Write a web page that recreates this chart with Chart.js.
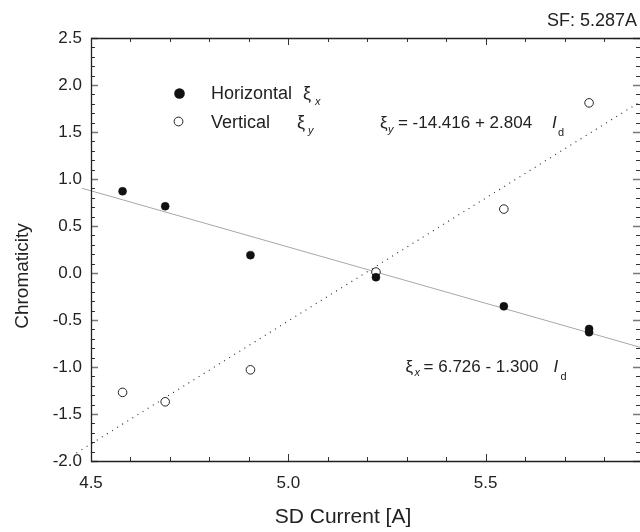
<!DOCTYPE html>
<html>
<head>
<meta charset="utf-8">
<script src="https://cdn.jsdelivr.net/npm/chart.js@4.4.1/dist/chart.umd.min.js"></script>
<style>
  html, body { margin: 0; padding: 0; background: #fff; }
  #wrap { width: 640px; height: 532px; }
</style>
</head>
<body>
<div id="wrap"><canvas id="chart" width="640" height="532"></canvas></div>
<script>
// SD current [A] and measured chromaticity
const currentH = [4.580, 4.688, 4.904, 5.222, 5.546, 5.762, 5.762];
const chromH = [0.87, 0.71, 0.19, -0.045, -0.355, -0.595, -0.63];
const currentV = [4.580, 4.688, 4.904, 5.222, 5.546, 5.762];
const chromV = [-1.27, -1.37, -1.03, 0.01, 0.68, 1.81];

// fitted lines as drawn in the figure (end points)
const fitHx = [4.477, 5.891];
const fitHy = [0.902, -0.79];
const fitVx = [4.463, 5.891];
const fitVy = [-1.914, 1.82];

const xTicks = [4.5, 5.0, 5.5];
const yTicks = [-2.0, -1.5, -1.0, -0.5, 0.0, 0.5, 1.0, 1.5, 2.0, 2.5];

const FONT = "'Liberation Sans', Arial, sans-serif";
const ink = "#222";

function pts(xs, ys) {
  return xs.map((x, i) => ({ x: x, y: ys[i] }));
}

// draws a run of pieces: [text, dx, dy, size, italic]
function richText(ctx, x0, y0, parts) {
  for (const p of parts) {
    ctx.font = (p[4] ? "italic " : "") + p[3] + "px " + FONT;
    ctx.fillText(p[0], x0 + p[1], y0 + p[2]);
  }
}

const framePlugin = {
  id: "frame",
  afterDraw(chart) {
    const ctx = chart.ctx;
    const a = chart.chartArea;
    const xs = chart.scales.x;
    const ys = chart.scales.y;
    ctx.save();

    // inward ticks on all four sides, minor every 0.1
    for (let i = 0; ; i++) {
      const v = +(ys.min + i * 0.1).toFixed(2);
      if (v > ys.max + 1e-6) break;
      const major = Math.abs(v * 2 - Math.round(v * 2)) < 1e-6;
      const py = Math.round(ys.getPixelForValue(v)) + 0.5;
      const len = major ? 7 : 4;
      ctx.strokeStyle = major ? "#777" : "#333";
      ctx.lineWidth = major ? 1.6 : 1;
      ctx.beginPath();
      ctx.moveTo(a.left, py); ctx.lineTo(a.left + len, py);
      ctx.moveTo(a.right, py); ctx.lineTo(a.right - len, py);
      ctx.stroke();
    }
    for (let i = 0; ; i++) {
      const v = +(xs.min + i * 0.1).toFixed(2);
      if (v > xs.max + 1e-6) break;
      const major = Math.abs(v * 2 - Math.round(v * 2)) < 1e-6;
      const px = Math.round(xs.getPixelForValue(v)) + 0.5;
      const len = major ? 7 : 4;
      ctx.strokeStyle = "#333";
      ctx.lineWidth = 1;
      ctx.beginPath();
      ctx.moveTo(px, a.bottom); ctx.lineTo(px, a.bottom - len);
      ctx.moveTo(px, a.top); ctx.lineTo(px, a.top + len);
      ctx.stroke();
    }

    // frame: the right side falls just past the canvas edge
    ctx.strokeStyle = ink;
    ctx.lineWidth = 1.3;
    ctx.beginPath();
    ctx.moveTo(a.right + 1, a.top + 0.5);
    ctx.lineTo(a.left + 0.5, a.top + 0.5);
    ctx.lineTo(a.left + 0.5, a.bottom + 0.5);
    ctx.lineTo(a.right + 1, a.bottom + 0.5);
    ctx.stroke();

    // axis titles
    ctx.fillStyle = ink;
    ctx.textBaseline = "alphabetic";
    ctx.textAlign = "center";
    ctx.font = "21px " + FONT;
    ctx.fillText("SD Current [A]", 343, 523);
    ctx.save();
    ctx.translate(28, 276);
    ctx.rotate(-Math.PI / 2);
    ctx.font = "19px " + FONT;
    ctx.fillText("Chromaticity", 0, 0);
    ctx.restore();

    ctx.textAlign = "right";
    ctx.font = "18px " + FONT;
    ctx.fillText("SF: 5.287A", 637, 26);

    // legend
    ctx.textAlign = "left";
    ctx.fillStyle = "#111";
    ctx.beginPath();
    ctx.arc(179.5, 93.5, 5.3, 0, Math.PI * 2);
    ctx.fill();
    ctx.beginPath();
    ctx.arc(178.5, 121.5, 4.4, 0, Math.PI * 2);
    ctx.fillStyle = "#fff";
    ctx.fill();
    ctx.strokeStyle = ink;
    ctx.lineWidth = 1;
    ctx.stroke();
    ctx.fillStyle = ink;
    richText(ctx, 211, 99, [["Horizontal", 0, 0, 18, false], ["\u03BE", 92, 0, 18, false], ["x", 104, 6, 11, true]]);
    richText(ctx, 211, 128, [["Vertical", 0, 0, 18, false], ["\u03BE", 86, 0, 18, false], ["y", 97, 6, 11, true]]);

    // fit equations
    const ux = xs.getPixelForValue(5.232);
    const uy = ys.getPixelForValue(1.543);
    richText(ctx, ux, uy, [
      ["\u03BE", 0, 0, 17, false], ["y", 8, 5, 11, true],
      ["= -14.416 + 2.804", 18, 0, 17, false],
      ["I", 172, 0, 17, true], ["d", 178, 8.5, 11, false]
    ]);
    const lx = xs.getPixelForValue(5.297);
    const ly = ys.getPixelForValue(-1.057);
    richText(ctx, lx, ly, [
      ["\u03BE", 0, 0, 17, false], ["x", 9, 4, 11, true],
      ["= 6.726 - 1.300", 18, 0, 17, false],
      ["I", 148, 0, 17, true], ["d", 155, 8, 11, false]
    ]);
    ctx.restore();
  }
};

Chart.defaults.font.family = FONT;
Chart.defaults.color = ink;

new Chart(document.getElementById("chart"), {
  type: "scatter",
  plugins: [framePlugin],
  data: {
    datasets: [
      {
        label: "Horizontal",
        data: pts(currentH, chromH),
        pointRadius: 4,
        pointBackgroundColor: "#111",
        pointBorderColor: "#111",
        pointBorderWidth: 0.5,
        showLine: false
      },
      {
        label: "Vertical",
        data: pts(currentV, chromV),
        pointRadius: 4.3,
        pointBackgroundColor: "#fff",
        pointBorderColor: ink,
        pointBorderWidth: 1,
        showLine: false
      },
      {
        label: "fit H",
        data: pts(fitHx, fitHy),
        showLine: true,
        pointRadius: 0,
        borderColor: "#a8a8a8",
        borderWidth: 1,
        clip: false
      },
      {
        label: "fit V",
        data: pts(fitVx, fitVy),
        showLine: true,
        pointRadius: 0,
        borderColor: "#333",
        borderWidth: 1.2,
        borderDash: [1, 5],
        clip: false
      }
    ]
  },
  options: {
    responsive: false,
    animation: false,
    layout: { autoPadding: false, padding: { top: 38, right: 0, bottom: 0, left: 0 } },
    plugins: { legend: { display: false }, tooltip: { enabled: false } },
    scales: {
      x: {
        type: "linear",
        min: 4.5,
        max: 5.891,
        grid: { display: false, drawTicks: false },
        border: { display: false },
        afterBuildTicks: (s) => { s.ticks = xTicks.map((v) => ({ value: v })); },
        afterFit: (s) => { s.height = 71; s.paddingLeft = 0; s.paddingRight = 0; },
        ticks: {
          padding: 12,
          font: { size: 17 },
          maxRotation: 0,
          callback: (v) => v.toFixed(1)
        }
      },
      y: {
        type: "linear",
        min: -2.0,
        max: 2.5,
        grid: { display: false, drawTicks: false },
        border: { display: false },
        afterBuildTicks: (s) => { s.ticks = yTicks.map((v) => ({ value: v })); },
        afterFit: (s) => { s.width = 91; },
        ticks: {
          padding: 9,
          font: { size: 17 },
          callback: (v) => v.toFixed(1)
        }
      }
    }
  }
});
</script>
</body>
</html>
